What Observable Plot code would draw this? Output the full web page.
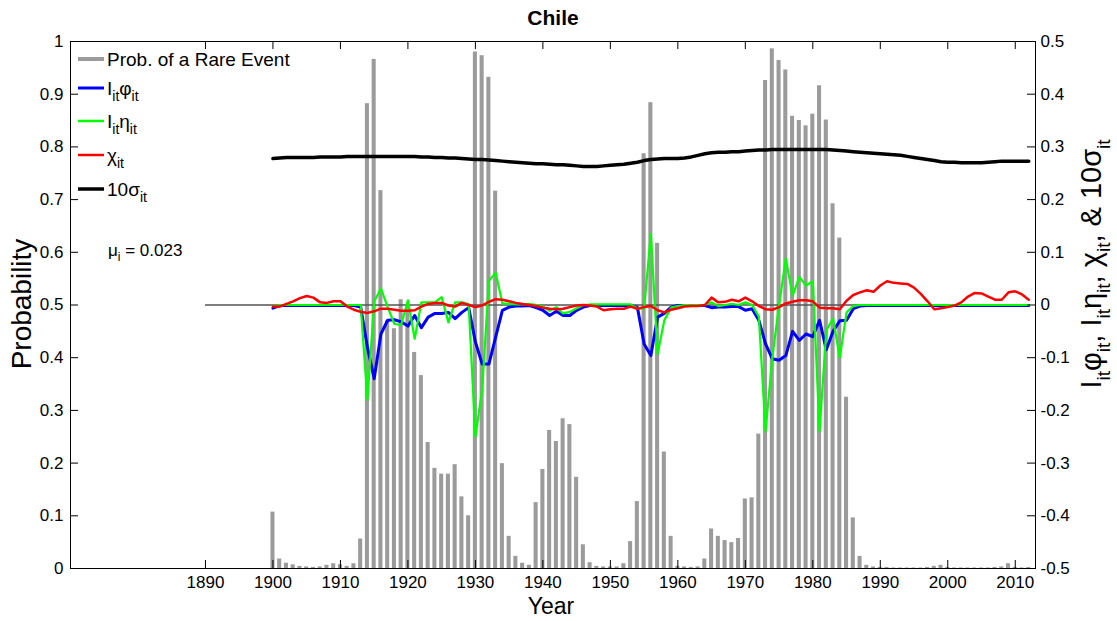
<!DOCTYPE html>
<html>
<head>
<meta charset="utf-8">
<script src="https://cdn.jsdelivr.net/npm/d3@7"></script>
<script src="https://cdn.jsdelivr.net/npm/@observablehq/plot@0.6"></script>
<style>
  body { margin: 0; background: #fff; }
  svg { display: block; }
</style>
</head>
<body>
<div id="chart"></div>
<script>
// ---------- DATA ----------
const startYear = 1900;
const prob = [
  0.107,0.018,0.010,0.007,0.004,0.003,0.002,0.003,0.006,0.009,
  0.007,0.004,0.009,0.056,0.882,0.966,0.717,0.470,0.455,0.510,
  0.500,0.410,0.366,0.239,0.190,0.179,0.179,0.197,0.136,0.100,
  0.980,0.973,0.932,0.716,0.199,0.061,0.023,0.010,0.006,0.125,
  0.188,0.262,0.241,0.284,0.273,0.173,0.045,0.011,0.004,0.003,
  0.003,0.003,0.009,0.051,0.127,0.787,0.884,0.617,0.221,0.061,
  0.004,0.003,0.002,0.003,0.018,0.075,0.061,0.053,0.049,0.057,
  0.132,0.134,0.255,0.926,0.986,0.964,0.946,0.858,0.850,0.840,
  0.862,0.916,0.851,0.692,0.627,0.325,0.096,0.023,0.006,0.003,
  0.002,0.002,0.001,0.001,0.001,0.001,0.001,0.002,0.004,0.006,
  0.002,0.001,0.001,0.001,0.001,0.001,0.001,0.002,0.003,0.009,
  0.002,0.001,0.002
];
const phi = [ // I_it * phi_it  (right axis)
  -0.006,-0.001,-0.001,-0.001,-0.001,-0.001,-0.001,-0.001,-0.001,-0.001,
  -0.001,-0.001,-0.001,-0.004,-0.080,-0.140,-0.055,-0.029,-0.028,-0.032,
  -0.040,-0.020,-0.043,-0.023,-0.016,-0.016,-0.014,-0.026,-0.014,-0.005,
  -0.070,-0.112,-0.112,-0.061,-0.010,-0.004,-0.002,-0.002,-0.001,-0.005,
  -0.010,-0.020,-0.012,-0.020,-0.020,-0.010,-0.004,-0.001,-0.001,-0.001,
  -0.001,-0.001,-0.001,-0.001,-0.004,-0.074,-0.096,-0.023,-0.016,-0.004,
  -0.001,-0.001,-0.001,-0.001,-0.001,-0.005,-0.004,-0.004,-0.003,-0.003,
  -0.010,-0.007,-0.029,-0.074,-0.102,-0.105,-0.096,-0.050,-0.067,-0.055,
  -0.060,-0.029,-0.085,-0.050,-0.030,-0.029,-0.007,-0.002,-0.001,-0.001,
  -0.001,-0.001,-0.001,-0.001,-0.001,-0.001,-0.001,-0.001,-0.001,-0.001,
  -0.001,-0.001,-0.001,-0.001,-0.001,-0.001,-0.001,-0.001,-0.001,-0.001,
  -0.001,-0.001,-0.001
];
const eta = [ // I_it * eta_it  (right axis)
  -0.002,0.000,0.000,0.000,0.000,0.000,0.000,0.000,0.000,0.000,
  0.000,0.000,0.000,0.000,-0.180,0.007,0.031,-0.004,-0.036,-0.038,
  0.009,-0.064,0.005,0.005,0.005,0.015,-0.033,0.005,0.005,0.002,
  -0.250,-0.160,0.046,0.061,0.003,0.002,0.001,0.001,0.002,0.000,
  -0.003,-0.011,-0.004,-0.016,-0.013,-0.006,0.000,0.001,0.001,0.001,
  0.001,0.001,0.001,0.001,-0.006,-0.007,0.135,-0.093,-0.029,-0.005,
  -0.002,0.000,0.000,0.000,0.000,0.005,-0.002,0.000,0.002,0.000,
  0.005,0.000,-0.022,-0.240,-0.100,0.000,0.088,0.018,0.053,0.037,
  0.045,-0.240,-0.048,-0.026,-0.100,-0.014,-0.002,0.000,0.000,0.000,
  0.000,0.000,0.000,0.000,0.000,0.000,0.000,0.000,0.000,0.000,
  0.000,0.000,0.000,0.000,0.000,0.000,0.000,0.000,0.000,0.000,
  0.000,0.000,0.000
];
const chi = [ // chi_it (right axis)
  -0.003,-0.003,0.002,0.007,0.013,0.017,0.014,0.005,0.004,0.007,
  0.007,-0.003,-0.009,-0.013,-0.015,-0.012,-0.007,-0.007,-0.009,-0.011,
  -0.011,-0.010,-0.003,0.002,0.004,0.004,-0.001,-0.003,0.004,0.000,
  -0.004,-0.001,0.006,0.011,0.010,0.007,0.004,0.002,0.000,-0.002,
  -0.005,-0.007,-0.008,-0.007,-0.004,-0.001,0.000,-0.001,-0.003,-0.010,
  -0.008,-0.007,-0.007,-0.003,-0.007,-0.004,-0.002,-0.010,-0.014,-0.009,
  -0.006,-0.003,-0.002,-0.002,0.000,0.014,0.005,0.006,0.010,0.007,
  0.014,0.007,-0.002,-0.008,-0.009,-0.004,0.003,0.006,0.009,0.009,
  0.007,-0.005,-0.006,-0.006,-0.008,0.008,0.019,0.024,0.028,0.025,
  0.037,0.045,0.042,0.041,0.040,0.033,0.021,0.007,-0.008,-0.006,
  -0.004,-0.001,0.005,0.016,0.023,0.022,0.016,0.010,0.010,0.024,
  0.026,0.020,0.010
];
const sigma10 = [ // 10 * sigma_it (right axis)
  0.278,0.279,0.280,0.280,0.280,0.280,0.280,0.281,0.281,0.281,
  0.281,0.282,0.282,0.282,0.282,0.282,0.282,0.282,0.282,0.282,
  0.282,0.282,0.281,0.281,0.280,0.280,0.279,0.279,0.278,0.277,
  0.276,0.276,0.275,0.274,0.273,0.272,0.271,0.270,0.269,0.268,
  0.268,0.267,0.266,0.266,0.265,0.264,0.263,0.263,0.263,0.264,
  0.265,0.266,0.267,0.269,0.271,0.274,0.276,0.277,0.278,0.278,
  0.278,0.279,0.281,0.284,0.287,0.289,0.290,0.290,0.291,0.291,
  0.292,0.293,0.294,0.294,0.295,0.295,0.295,0.295,0.295,0.295,
  0.295,0.295,0.295,0.294,0.293,0.292,0.291,0.290,0.289,0.288,
  0.287,0.286,0.285,0.284,0.282,0.280,0.278,0.276,0.274,0.272,
  0.271,0.271,0.270,0.270,0.270,0.270,0.271,0.272,0.273,0.273,
  0.273,0.273,0.273
];
const xTicks = [1890,1900,1910,1920,1930,1940,1950,1960,1970,1980,1990,2000,2010];
const yTicks = [0,0.1,0.2,0.3,0.4,0.5,0.6,0.7,0.8,0.9,1];
const xDomain = [1870, 2013];
const zeroLine = [{from: 1890, to: 2012, value: 0}];
const muText = "0.023";
const rightOffset = 0.5; // right axis value = left axis value - 0.5

// ---------- BUILD ----------
const years = prob.map((_, i) => startYear + i);
const rows = years.map((yr, i) => ({
  year: yr, prob: prob[i],
  phi: phi[i] + rightOffset, eta: eta[i] + rightOffset,
  chi: chi[i] + rightOffset, sig: sigma10[i] + rightOffset
}));

const W = 1117, H = 621;
const mL = 70, mR = 82, mT = 41, mB = 53;
const barHalf = 0.3;
const tickLenX = 8 * (xDomain[1] - xDomain[0]) / (W - mL - mR);
const tickLenY = 8 / (H - mT - mB);
const font = "'Liberation Sans', Arial, Helvetica, sans-serif";

const fmtR = d => String(Math.round((d - rightOffset) * 10) / 10);
const fmtL = d => String(Math.round(d * 10) / 10);

const svgEl = Plot.plot({
  width: W, height: H,
  marginLeft: mL, marginRight: mR, marginTop: mT, marginBottom: mB,
  style: {fontFamily: font, fontSize: "17px", color: "#000", background: "#fff"},
  x: {domain: xDomain},
  y: {domain: [0, 1]},
  marks: [
    Plot.rectY(rows, {x1: d => d.year - barHalf, x2: d => d.year + barHalf, y1: 0, y2: "prob", fill: "#9b9b9b"}),
    Plot.ruleY(zeroLine, {y: d => d.value + rightOffset, x1: "from", x2: "to", stroke: "#555", strokeWidth: 1.3}),
    Plot.line(rows, {x: "year", y: "sig", stroke: "#000", strokeWidth: 3.5}),
    Plot.line(rows, {x: "year", y: "phi", stroke: "#0000ff", strokeWidth: 3}),
    Plot.line(rows, {x: "year", y: "eta", stroke: "#00ff00", strokeWidth: 2.2}),
    Plot.line(rows, {x: "year", y: "chi", stroke: "#ff0000", strokeWidth: 2.5}),
    Plot.frame({stroke: "#000", strokeWidth: 1}),
    // inward ticks
    Plot.ruleX(xTicks, {x: d => d, y1: 0, y2: tickLenY, stroke: "#000"}),
    Plot.ruleX(xTicks, {x: d => d, y1: 1, y2: 1 - tickLenY, stroke: "#000"}),
    Plot.ruleY(yTicks, {y: d => d, x1: xDomain[0], x2: xDomain[0] + tickLenX, stroke: "#000"}),
    Plot.ruleY(yTicks, {y: d => d, x1: xDomain[1], x2: xDomain[1] - tickLenX, stroke: "#000"}),
    Plot.axisX(xTicks, {anchor: "bottom", tickSize: 0, tickPadding: 7, tickFormat: d => String(d), label: null}),
    Plot.axisY(yTicks, {anchor: "left", tickSize: 0, tickPadding: 7, tickFormat: fmtL, label: null}),
    Plot.axisY(yTicks, {anchor: "right", tickSize: 0, tickPadding: 5, tickFormat: fmtR, label: null})
  ]
});
document.getElementById("chart").appendChild(svgEl);

// ---------- TEXT / LEGEND ----------
const svg = d3.select(svgEl);
const g = svg.append("g").attr("font-family", font).attr("fill", "#000").attr("text-anchor", "start");

function richText(parent, parts, size, subSize, attrs) {
  const t = parent.append("text").attr("font-size", size);
  for (const [k, v] of Object.entries(attrs)) t.attr(k, v);
  let sub = false;
  for (const p of parts) {
    const isSub = p.startsWith("_");
    const s = isSub ? p.slice(1) : p;
    const ts = t.append("tspan").text(s);
    if (isSub && !sub) { ts.attr("dy", size * 0.3).attr("font-size", subSize); sub = true; }
    else if (isSub) { ts.attr("font-size", subSize); }
    else if (!isSub && sub) { ts.attr("dy", -size * 0.3); sub = false; }
  }
  return t;
}

// title
g.append("text").attr("x", 553).attr("y", 25).attr("text-anchor", "middle")
  .attr("font-size", 21).attr("font-weight", "bold").text("Chile");
// x label
g.append("text").attr("x", 551).attr("y", 614).attr("text-anchor", "middle")
  .attr("font-size", 23).text("Year");
// y label left
g.append("text").attr("transform", "translate(31,304) rotate(-90)").attr("text-anchor", "middle")
  .attr("font-size", 28).text("Probability");
// y label right
richText(g, ["I","_it","φ","_it",", I","_it","η","_it",", χ","_it",", & 10σ","_it"], 29, 19,
  {transform: "translate(1101,264) rotate(-90)", "text-anchor": "middle"});

// legend
const legend = [
  {color: "#9b9b9b", w: 4, parts: ["Prob. of a Rare Event"]},
  {color: "#0000ff", w: 3, parts: ["I","_it","φ","_it"]},
  {color: "#00ff00", w: 2.5, parts: ["I","_it","η","_it"]},
  {color: "#ff0000", w: 2.5, parts: ["χ","_it"]},
  {color: "#000000", w: 3.5, parts: ["10σ","_it"]}
];
const legY = [59, 88, 121, 155, 189];
legend.forEach((l, i) => {
  g.append("line").attr("x1", 78).attr("x2", 104).attr("y1", legY[i]).attr("y2", legY[i])
    .attr("stroke", l.color).attr("stroke-width", l.w);
  richText(g, l.parts, 19, 14, {x: 107, y: legY[i] + 7});
});
richText(g, ["μ","_i"," = " + muText], 17, 12, {x: 108, y: 256});
</script>
</body>
</html>
